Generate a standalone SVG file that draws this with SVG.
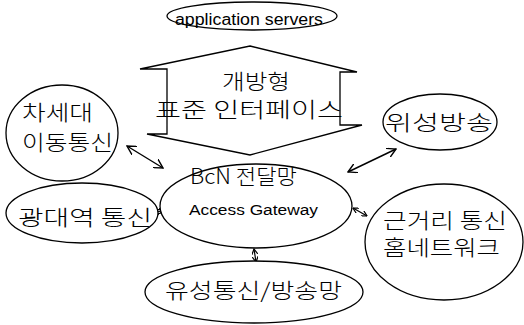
<svg xmlns="http://www.w3.org/2000/svg" width="524" height="325" viewBox="0 0 524 325">
<defs>
<marker id="ah" viewBox="0 0 10 10" refX="9" refY="5" markerWidth="10" markerHeight="10" markerUnits="userSpaceOnUse" orient="auto-start-reverse">
<polyline points="0,0 9,5 0,10" fill="none" stroke="#000" stroke-width="1.4"/>
</marker>
<marker id="as" viewBox="0 0 10 10" refX="9" refY="5" markerWidth="6" markerHeight="6" markerUnits="userSpaceOnUse" orient="auto-start-reverse">
<polyline points="0,0 9,5 0,10" fill="none" stroke="#000" stroke-width="2"/>
</marker>
<style>
.sh{fill:#fff;stroke:#000;stroke-width:1.3}
.k{font-family:"Noto Sans CJK KR","Noto Sans",sans-serif;font-size:21px;font-weight:300;fill:#000}
.l{font-family:"Liberation Sans",Arial,sans-serif;fill:#000}
.c{fill:none;stroke:#000;stroke-width:1.4;marker-start:url(#ah);marker-end:url(#ah)}
.s{fill:none;stroke:#000;stroke-width:1.2;marker-start:url(#as);marker-end:url(#as)}
</style>
</defs>
<rect width="524" height="325" fill="#fff"/>
<g id="connectors">
<line class="c" x1="127" y1="146" x2="163" y2="168"/>
<line class="s" x1="155" y1="212" x2="163" y2="211"/>
<line class="c" x1="348" y1="172" x2="396" y2="149"/>
<line class="s" x1="353" y1="208" x2="367" y2="216"/>
<line class="s" x1="254" y1="249" x2="256" y2="262"/>
</g>
<g id="app-servers">
<ellipse class="sh" cx="252" cy="16" rx="85" ry="14"/>
<text class="l" x="175" y="25" font-size="16" textLength="148" lengthAdjust="spacingAndGlyphs">application servers</text>
</g>
<g id="open-interface">
<polygon class="sh" points="250,46 357,72 340,72 340,125 362,125 250,155 147,134 167,134 167,69 140,69"/>
<text class="k" x="222" y="89" font-size="19" textLength="68" lengthAdjust="spacingAndGlyphs">개방형</text>
<text class="k" x="155" y="117" font-size="19" textLength="188" lengthAdjust="spacingAndGlyphs">표준 인터페이스</text>
</g>
<g id="next-mobile">
<ellipse class="sh" cx="62" cy="133" rx="56" ry="48"/>
<text class="k" x="22" y="120" textLength="71" lengthAdjust="spacingAndGlyphs">차세대</text>
<text class="k" x="22" y="150" textLength="91" lengthAdjust="spacingAndGlyphs">이동통신</text>
</g>
<g id="broadband">
<ellipse class="sh" cx="82" cy="213" rx="76" ry="30"/>
<text class="k" x="18" y="225" textLength="134" lengthAdjust="spacingAndGlyphs">광대역 통신</text>
</g>
<g id="bcn">
<ellipse class="sh" cx="256" cy="206" rx="96" ry="42"/>
<text class="k" x="190" y="184" font-size="19" textLength="107" lengthAdjust="spacingAndGlyphs">BcN 전달망</text>
<text class="l" x="189" y="215" font-size="14" textLength="129" lengthAdjust="spacingAndGlyphs">Access Gateway</text>
</g>
<g id="wired">
<ellipse class="sh" cx="254" cy="292" rx="109" ry="31"/>
<text class="k" x="165" y="298" font-size="22" textLength="177" lengthAdjust="spacingAndGlyphs">유성통신/방송망</text>
</g>
<g id="satellite">
<ellipse class="sh" cx="440" cy="122" rx="57" ry="28"/>
<text class="k" x="385" y="130" textLength="108" lengthAdjust="spacingAndGlyphs">위성방송</text>
</g>
<g id="home-network">
<ellipse class="sh" cx="444" cy="242" rx="79" ry="58"/>
<text class="k" x="383" y="228" textLength="124" lengthAdjust="spacingAndGlyphs">근거리 통신</text>
<text class="k" x="383" y="255" textLength="117" lengthAdjust="spacingAndGlyphs">홈네트워크</text>
</g>
</svg>
